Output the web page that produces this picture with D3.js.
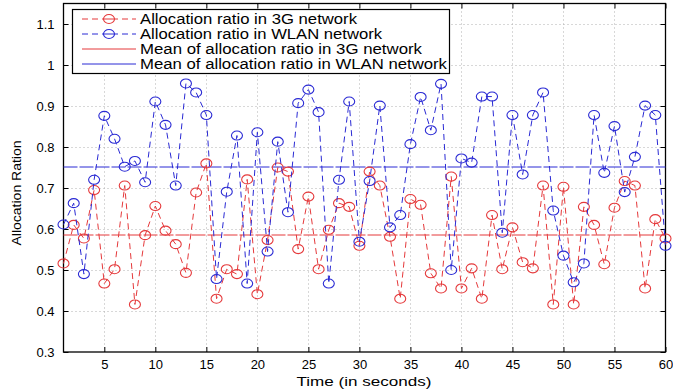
<!DOCTYPE html>
<html>
<head>
<meta charset="utf-8">
<script src="https://cdn.jsdelivr.net/npm/d3@7/dist/d3.min.js"></script>
<style>
  body { margin: 0; background: #fff; }
  text { font-family: "Liberation Sans", Arial, Helvetica, sans-serif; fill: #000; }
</style>
</head>
<body>
<div id="chart"></div>
<script>
// time axis, one sample per second
const times = d3.range(1, 61);

const ratio3G = [
  0.516, 0.61, 0.577, 0.695, 0.467, 0.502, 0.706, 0.416, 0.585, 0.656,
  0.596, 0.563, 0.493, 0.689, 0.76, 0.43, 0.502, 0.49, 0.721, 0.441,
  0.573, 0.75, 0.74, 0.551, 0.679, 0.502, 0.598, 0.663, 0.654, 0.559,
  0.74, 0.706, 0.581, 0.43, 0.673, 0.659, 0.492, 0.455, 0.728, 0.455,
  0.504, 0.43, 0.634, 0.502, 0.604, 0.519, 0.504, 0.706, 0.416, 0.703,
  0.416, 0.654, 0.61, 0.514, 0.652, 0.717, 0.706, 0.455, 0.624, 0.577
];

const ratioWLAN = [
  0.611, 0.663, 0.49, 0.72, 0.876, 0.82, 0.752, 0.766, 0.714, 0.911,
  0.854, 0.706, 0.955, 0.933, 0.878, 0.478, 0.691, 0.828, 0.467, 0.836,
  0.545, 0.813, 0.641, 0.907, 0.94, 0.885, 0.467, 0.72, 0.911, 0.569,
  0.717, 0.901, 0.604, 0.634, 0.807, 0.922, 0.841, 0.954, 0.5, 0.772,
  0.762, 0.923, 0.923, 0.591, 0.878, 0.733, 0.878, 0.933, 0.645, 0.535,
  0.47, 0.516, 0.878, 0.737, 0.851, 0.69, 0.776, 0.901, 0.878, 0.559
];

const xTicks = [5, 10, 15, 20, 25, 30, 35, 40, 45, 50, 55, 60];
const yTicks = [0.3, 0.4, 0.5, 0.6, 0.7, 0.8, 0.9, 1, 1.1];

const legendLabels = [
  "Allocation ratio in 3G network",
  "Allocation ratio in WLAN network",
  "Mean of allocation ratio in 3G network",
  "Mean of allocation ratio in WLAN network"
];
const legendWidths = [217, 242, 282, 307];

const RED = "#e5393b";
const BLUE = "#2a2ad4";

const W = 673, H = 390;
const plotL = 63.5, plotR = 665.5, plotT = 3.5, plotB = 352;

const svg = d3.select("#chart").append("svg")
  .attr("width", W).attr("height", H);

const x = d3.scaleLinear().domain([1, 60]).range([plotL, plotR]);
const y = d3.scaleLinear().domain([0.3, 1.15]).range([plotB, plotT]);
const crisp = v => Math.round(v) + 0.5;

// dotted grid
const grid = svg.append("g").attr("stroke", "#b0b0b0").attr("stroke-width", 1)
  .attr("stroke-dasharray", "1,3");
grid.selectAll(".gx").data(xTicks.filter(t => t < 60)).enter().append("line")
  .attr("x1", d => crisp(x(d))).attr("x2", d => crisp(x(d)))
  .attr("y1", plotT).attr("y2", plotB);
grid.selectAll(".gy").data(yTicks.filter(t => t > 0.3)).enter().append("line")
  .attr("x1", plotL).attr("x2", plotR)
  .attr("y1", d => crisp(y(d))).attr("y2", d => crisp(y(d)));

// axes, matlab style: inward ticks on all four sides
const fmtY = d => (d === 1 ? "1" : d3.format(".1f")(d));
svg.append("g").attr("transform", `translate(0,${plotB})`)
  .call(d3.axisBottom(x).tickValues(xTicks).tickSizeInner(-5).tickSizeOuter(0).tickPadding(8))
  .call(g => g.select(".domain").remove());
svg.append("g").attr("transform", `translate(0,${plotT})`)
  .call(d3.axisTop(x).tickValues(xTicks).tickSizeInner(-5).tickSizeOuter(0).tickFormat(""))
  .call(g => g.select(".domain").remove());
svg.append("g").attr("transform", `translate(${plotL},0)`)
  .call(d3.axisLeft(y).tickValues(yTicks).tickSizeInner(-5).tickSizeOuter(0).tickPadding(9).tickFormat(fmtY))
  .call(g => g.select(".domain").remove());
svg.append("g").attr("transform", `translate(${plotR},0)`)
  .call(d3.axisRight(y).tickValues(yTicks).tickSizeInner(-5).tickSizeOuter(0).tickFormat(""))
  .call(g => g.select(".domain").remove());
svg.selectAll(".tick text").style("font-size", "13px")
  .style("font-family", '"Liberation Sans", Arial, sans-serif');

svg.append("rect")
  .attr("x", plotL).attr("y", plotT).attr("width", plotR - plotL).attr("height", plotB - plotT)
  .attr("fill", "none").attr("stroke", "#000").attr("stroke-width", 1.3);

// mean lines
const mean3G = d3.mean(ratio3G);
const meanWLAN = d3.mean(ratioWLAN);
[[mean3G, RED], [meanWLAN, BLUE]].forEach(([m, c]) => {
  svg.append("line")
    .attr("x1", plotL).attr("x2", plotR).attr("y1", Math.round(y(m))).attr("y2", Math.round(y(m)))
    .attr("stroke", c).attr("stroke-width", 1).attr("stroke-dasharray", "14,2");
});

// series
const line = d3.line().x((d, i) => x(times[i])).y(d => y(d));
function drawSeries(values, color) {
  svg.append("path").datum(values)
    .attr("d", line).attr("fill", "none")
    .attr("stroke", color).attr("stroke-width", 1).attr("stroke-dasharray", "6,4");
  svg.append("g").selectAll("ellipse").data(values).enter().append("ellipse")
    .attr("cx", (d, i) => x(times[i])).attr("cy", d => y(d))
    .attr("rx", 5.5).attr("ry", 4.5)
    .attr("fill", "none").attr("stroke", color).attr("stroke-width", 1.1);
}
drawSeries(ratio3G, RED);
drawSeries(ratioWLAN, BLUE);

// legend
const lg = svg.append("g");
lg.append("rect").attr("x", 72.5).attr("y", 9.5).attr("width", 377).attr("height", 64)
  .attr("fill", "#fff").attr("stroke", "#000").attr("stroke-width", 1.2);
const legendStyles = [
  { color: RED, dash: "6,4", marker: true },
  { color: BLUE, dash: "6,4", marker: true },
  { color: RED, dash: null, marker: false },
  { color: BLUE, dash: null, marker: false }
];
legendLabels.forEach((lab, i) => {
  const cy = 19 + i * 15;
  const st = legendStyles[i];
  lg.append("line").attr("x1", 82).attr("x2", 136).attr("y1", cy).attr("y2", cy)
    .attr("stroke", st.color).attr("stroke-width", 1)
    .attr("stroke-dasharray", st.dash);
  if (st.marker) {
    lg.append("ellipse").attr("cx", 109).attr("cy", cy).attr("rx", 5.5).attr("ry", 4.5)
      .attr("fill", "#fff").attr("stroke", st.color).attr("stroke-width", 1.1);
    lg.append("line").attr("x1", 104).attr("x2", 114).attr("y1", cy).attr("y2", cy)
      .attr("stroke", st.color).attr("stroke-width", 1);
  }
  lg.append("text").attr("x", 140).attr("y", cy + 5)
    .attr("textLength", legendWidths[i]).attr("lengthAdjust", "spacingAndGlyphs")
    .style("font-size", "14px").text(lab);
});

// axis titles
svg.append("text").attr("x", 364).attr("y", 386).attr("text-anchor", "middle")
  .attr("textLength", 135).attr("lengthAdjust", "spacingAndGlyphs")
  .style("font-size", "13.5px").text("Time (in seconds)");
svg.append("text").attr("transform", "translate(21,193) rotate(-90)")
  .attr("text-anchor", "middle")
  .attr("textLength", 105).attr("lengthAdjust", "spacingAndGlyphs")
  .style("font-size", "13px").text("Allocation Ration");
</script>
</body>
</html>
